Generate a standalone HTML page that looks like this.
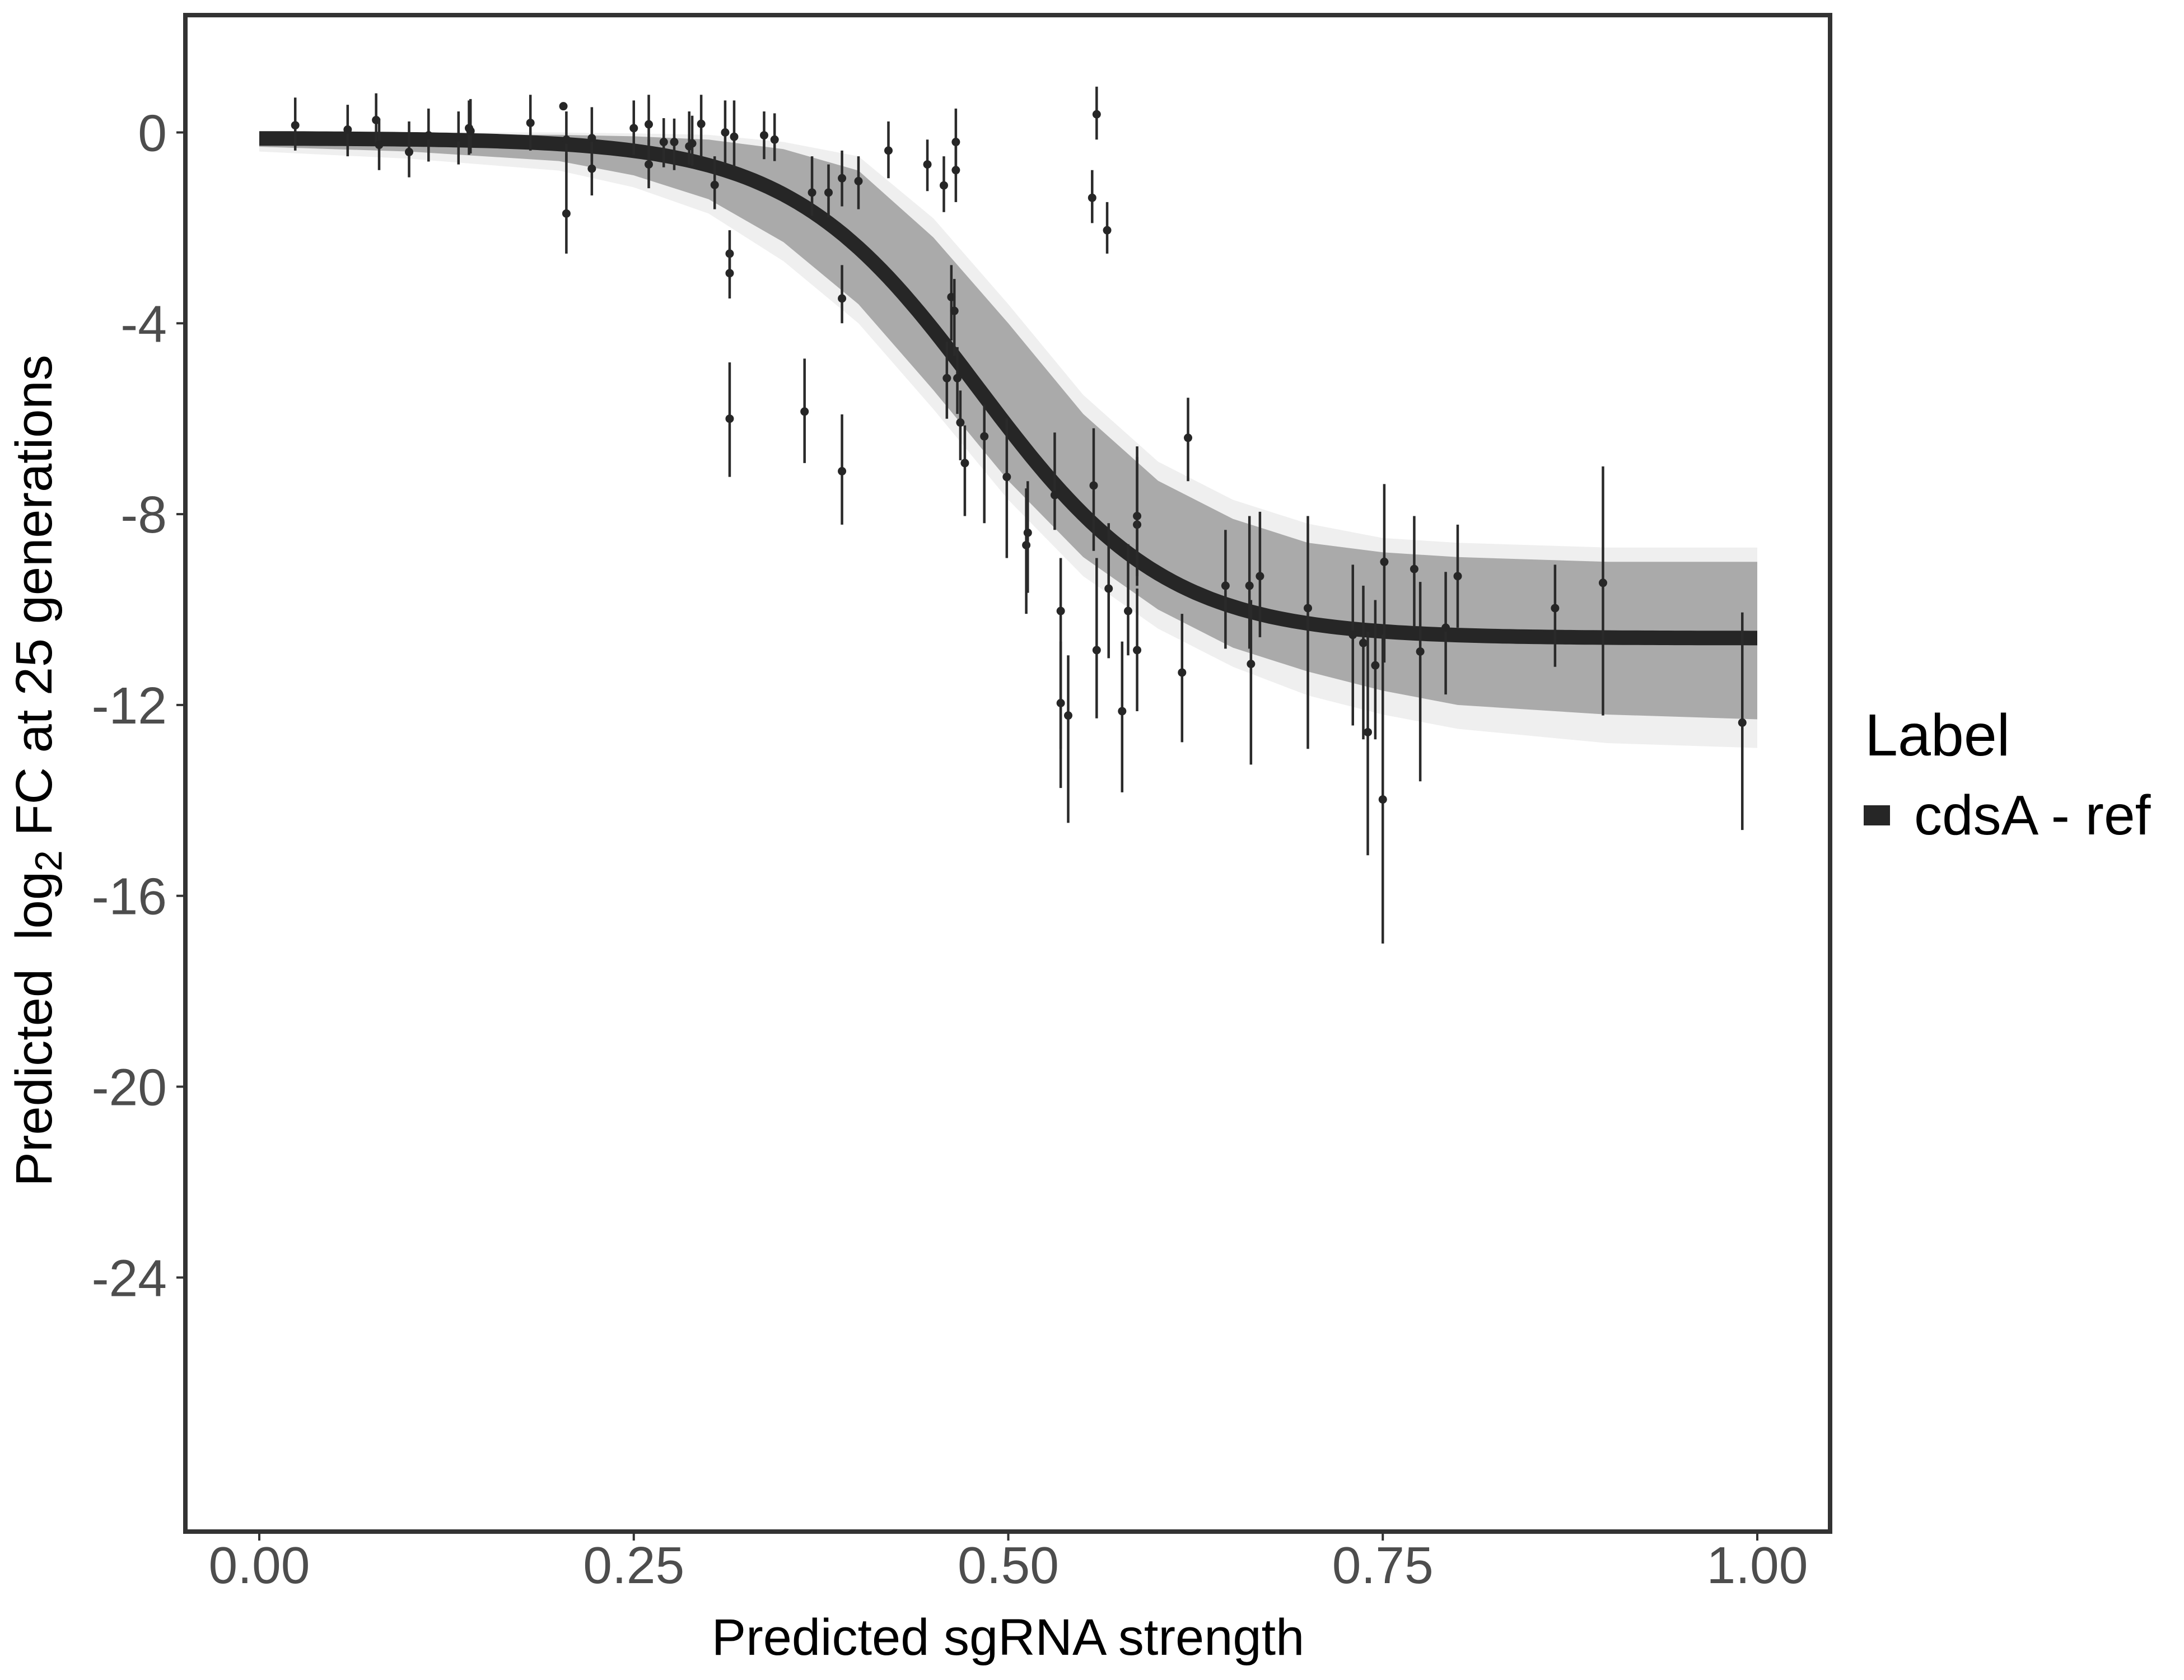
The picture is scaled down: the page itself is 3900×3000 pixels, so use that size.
<!DOCTYPE html>
<html><head><meta charset="utf-8"><style>
html,body{margin:0;padding:0;background:#fff;}
svg{display:block;}
text{font-family:"Liberation Sans",Arial,sans-serif;}
</style></head><body>
<svg id="chart" width="3900" height="3000" viewBox="0 0 3900 3000" xmlns="http://www.w3.org/2000/svg">
<rect x="0" y="0" width="3900" height="3000" fill="#fff"/>
<g id="band"></g>
<g id="fit"></g>
<g id="pts"></g>
<rect x="331" y="27" width="2937" height="2708" fill="none" stroke="#333" stroke-width="8"/>
<g id="axes"></g>
<text x="1800" y="2955" font-size="92" text-anchor="middle" fill="#000">Predicted sgRNA strength</text>
<text transform="translate(92,1376) rotate(-90)" font-size="92" text-anchor="middle" fill="#000">Predicted&#160; log<tspan font-size="68" dy="18">2</tspan><tspan dy="-18"> FC at 25 generations</tspan></text>
<g>
<text x="3330" y="1349" font-size="106" fill="#000">Label</text>
<rect x="3328" y="1438" width="47" height="36" fill="#262626"/>
<text x="3418" y="1490" font-size="100" fill="#000">cdsA - ref</text>
</g>
</svg>
<script>
const xs=[.024,.059,.078,.080,.100,.113,.133,.140,.141,.181,.203,.205,.205,.222,.222,.250,.260,.260,.270,.277,.287,.289,.295,.304,.311,.317,.314,.314,.314,.337,.344,.364,.369,.380,.389,.389,.389,.400,.420,.446,.457,.462,.464,.465,.465,.459,.466,.468,.471,.484,.499,.512,.513,.531,.535,.535,.540,.556,.559,.566,.557,.559,.567,.576,.580,.586,.586,.586,.616,.620,.645,.661,.662,.668,.700,.730,.737,.740,.745,.750,.751,.771,.775,.792,.800,.865,.897,.990];
const ys=[.15,.06,.26,-.26,-.41,-.06,-.1,.09,.03,.2,.55,-1.7,-.15,-.12,-.76,.09,.17,-.67,-.2,-.2,-.29,-.23,.18,-1.1,0,-.09,-2.54,-2.95,-6.0,-.06,-.15,-5.85,-1.26,-1.26,-.96,-3.48,-7.1,-1.02,-.38,-.67,-1.11,-3.45,-3.74,-.2,-.79,-5.15,-5.15,-6.08,-6.93,-6.37,-7.22,-8.65,-8.39,-7.6,-10.03,-11.96,-12.22,-1.37,.38,-2.05,-7.4,-10.85,-9.56,-12.13,-10.03,-8.22,-8.04,-10.85,-11.32,-6.4,-9.5,-9.5,-11.14,-9.3,-9.97,-10.53,-10.7,-12.57,-11.17,-13.98,-9.0,-9.15,-10.88,-10.38,-9.3,-9.97,-9.44,-12.37];
const errLo=[-.38,-.5,-.26,-.79,-.94,-.61,-.67,-.47,-.44,-.38,.55,-2.54,-.61,-.61,-1.32,-.47,-.26,-1.17,-.73,-.79,-.67,-.7,-.53,-1.61,-.67,-.73,-3.07,-3.48,-7.22,-.56,-.6,-6.93,-1.75,-1.78,-1.55,-4.0,-8.22,-1.61,-.96,-1.23,-1.67,-4.36,-4.68,-.91,-1.46,-6.0,-5.9,-6.87,-8.04,-8.19,-8.92,-10.09,-9.65,-8.33,-12.92,-13.74,-14.47,-1.9,-.15,-2.54,-8.77,-12.28,-11.02,-13.83,-10.96,-9.5,-9.3,-12.13,-12.78,-7.31,-10.82,-10.82,-13.25,-10.58,-12.92,-12.43,-12.72,-15.15,-12.72,-17.0,-11.11,-10.38,-13.6,-11.78,-10.38,-11.2,-12.22,-14.62];
const errHi=[.73,.58,.82,.29,.23,.5,.44,.67,.7,.79,.55,-.44,.44,.53,-.2,.67,.79,-.15,.3,.29,.44,.35,.79,-.5,.67,.67,-2.05,-2.43,-4.82,.44,.4,-4.74,-.5,-.67,-.38,-2.78,-5.91,-.5,.23,-.15,-.5,-2.78,-3.07,.5,-.15,-4.39,-4.5,-5.41,-6.14,-5.7,-5.99,-7.46,-7.31,-6.29,-8.92,-10.67,-10.96,-.79,.96,-1.46,-6.2,-8.92,-8.19,-10.67,-8.63,-6.58,-6.8,-9.56,-10.09,-5.56,-8.33,-8.04,-9.8,-7.95,-8.04,-9.06,-9.5,-10.47,-9.8,-10.53,-7.37,-8.04,-9.42,-9.21,-8.22,-9.06,-7.0,-10.06];
const fitTop=-0.12, fitBottom=-10.6, fitMid=0.48, fitScale=0.063;
const bandX=[0,.1,.2,.25,.3,.35,.4,.45,.5,.55,.6,.65,.7,.75,.8,.9,1.0];
const bandHi=[-0.05,-0.05,-0.05,-0.08,-0.15,-0.35,-0.8,-2.2,-4.0,-5.9,-7.3,-8.1,-8.6,-8.8,-8.9,-9.0,-9.0];
const bandLo=[-0.3,-0.4,-0.6,-0.9,-1.4,-2.3,-3.6,-5.4,-7.3,-8.9,-10.0,-10.8,-11.3,-11.7,-12.0,-12.2,-12.3];
const outerHi=[0,0,0,-0.02,-0.05,-0.2,-0.5,-1.8,-3.6,-5.5,-6.9,-7.7,-8.2,-8.5,-8.6,-8.7,-8.7];
const outerLo=[-0.4,-0.55,-0.8,-1.15,-1.7,-2.7,-4.0,-5.8,-7.7,-9.3,-10.4,-11.2,-11.8,-12.2,-12.5,-12.8,-12.9];
const xTicks=[0,.25,.5,.75,1], xTickLabels=["0.00","0.25","0.50","0.75","1.00"];
const yTicks=[0,-4,-8,-12,-16,-20,-24], yTickLabels=["0","-4","-8","-12","-16","-20","-24"];

const NS="http://www.w3.org/2000/svg";
function X(v){return 463+v*2675;}
function Y(v){return 236.5-v*85.2;}
function mk(tag,attrs,parent){const e=document.createElementNS(NS,tag);for(const k in attrs)e.setAttribute(k,attrs[k]);parent.appendChild(e);return e;}
function bandPath(hi,lo){let d="";for(let i=0;i<bandX.length;i++)d+=(i?"L":"M")+X(bandX[i])+","+Y(hi[i]);for(let i=bandX.length-1;i>=0;i--)d+="L"+X(bandX[i])+","+Y(lo[i]);return d+"Z";}
const band=document.getElementById('band');
const ob=mk('path',{d:bandPath(outerHi,outerLo),fill:"#efefef"},band);


const ib=mk('path',{d:bandPath(bandHi,bandLo),fill:"#aaaaaa"},band);


let d="";for(let i=0;i<=200;i++){const x=i/200;const y=fitTop+(fitBottom-fitTop)/(1+Math.exp(-(x-fitMid)/fitScale));d+=(i?"L":"M")+X(x).toFixed(1)+","+Y(y).toFixed(1);}
const fl=mk('path',{d:d,fill:"none",stroke:"#262626","stroke-width":26},document.getElementById('fit'));


const pts=document.getElementById('pts');
for(let i=0;i<xs.length;i++){
  if(errHi[i]!==errLo[i]){
    const l=mk('line',{x1:X(xs[i]),x2:X(xs[i]),y1:Y(errHi[i]),y2:Y(errLo[i]),stroke:"#2a2a2a","stroke-width":4.5},pts);
    
    
  }
  const c=mk('circle',{cx:X(xs[i]),cy:Y(ys[i]),r:7.5,fill:"#262626"},pts);
  
  
}
const ax=document.getElementById('axes');
xTicks.forEach((v,i)=>{
  const t=mk('line',{x1:X(v),x2:X(v),y1:2735,y2:2751,stroke:"#333","stroke-width":4},ax);
  
  
  const tx=mk('text',{x:X(v),y:2827,"font-size":93,"text-anchor":"middle",fill:"#4d4d4d"},ax);
  tx.textContent=xTickLabels[i];
  
  
});
yTicks.forEach((v,i)=>{
  const t=mk('line',{x1:315,x2:331,y1:Y(v),y2:Y(v),stroke:"#333","stroke-width":4},ax);
  
  
  const tx=mk('text',{x:298,y:Y(v)+33,"font-size":93,"text-anchor":"end",fill:"#4d4d4d"},ax);
  tx.textContent=yTickLabels[i];
  
  
});
</script>
</body></html>
